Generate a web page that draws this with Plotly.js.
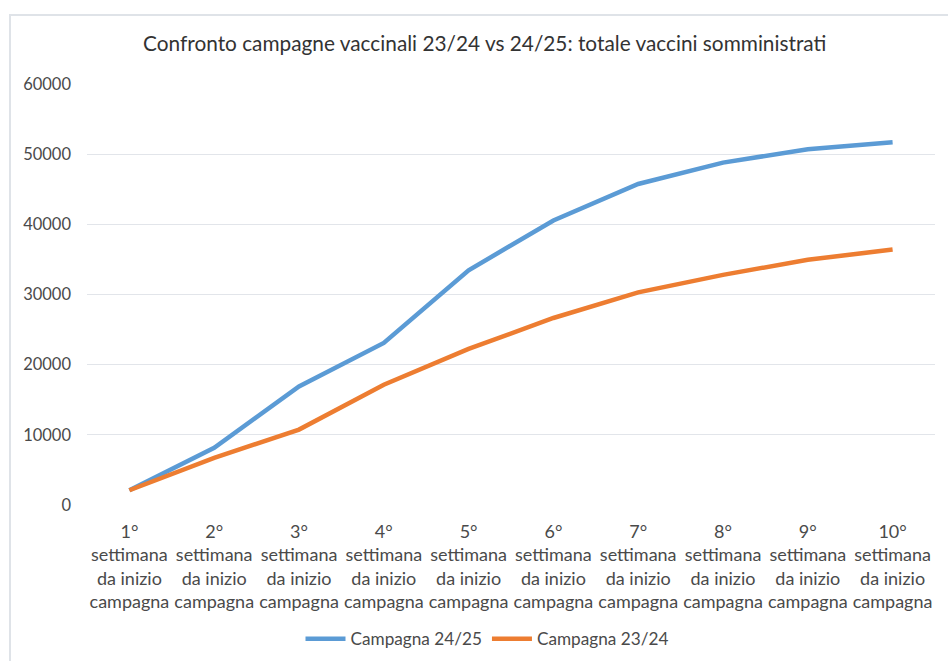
<!DOCTYPE html>
<html>
<head>
<meta charset="utf-8">
<script src="https://cdn.plot.ly/plotly-3.0.1.min.js"></script>
<style>
  html, body { margin: 0; padding: 0; background: #ffffff; }
  #wrap { position: relative; width: 948px; height: 661px; overflow: hidden; }
  #chart { width: 948px; height: 661px; }
  #frame { position: absolute; left: 9px; top: 14px; width: 960px; height: 700px;
           border-left: 2px solid #dfe3e8; border-top: 2px solid #dfe3e8; pointer-events: none; }
</style>
</head>
<body>
<div id="wrap">
  <div id="chart"></div>
  <div id="frame"></div>
</div>
<script>
// ---- data ----
const weeks = ["1°", "2°", "3°", "4°", "5°", "6°", "7°", "8°", "9°", "10°"];
const weekSuffix = "settimana<br>da inizio<br>campagna";
const campagna2425 = [2100, 8150, 16900, 23100, 33450, 40550, 45750, 48800, 50700, 51700];
const campagna2324 = [2100, 6700, 10750, 17150, 22250, 26650, 30300, 32800, 34950, 36400];
const yTicks = [0, 10000, 20000, 30000, 40000, 50000, 60000];
const seriesNames = ["Campagna 24/25", "Campagna 23/24"];

const categories = weeks.map(w => w + "<br>" + weekSuffix);
const FONT = "Lato, 'Open Sans', sans-serif";

const traces = [
  { x: categories, y: campagna2425, type: "scatter", mode: "lines", name: seriesNames[0],
    line: { color: "#5B9BD5", width: 4.5 } },
  { x: categories, y: campagna2324, type: "scatter", mode: "lines", name: seriesNames[1],
    line: { color: "#ED7D31", width: 4.5 } }
];

const layout = {
  width: 948, height: 661,
  margin: { l: 87, r: 13, t: 84, b: 155.5, pad: 0, autoexpand: false },
  paper_bgcolor: "#ffffff", plot_bgcolor: "#ffffff",
  font: { family: FONT, color: "#4a4a4a", size: 16 },
  title: {
    text: "Confronto campagne vaccinali 23/24 vs 24/25: totale vaccini somministrati",
    font: { family: FONT, size: 20.8, color: "#333333" },
    xref: "paper", x: 0.469, xanchor: "center",
    yref: "container", y: 1 - 44 / 661, yanchor: "middle"
  },
  xaxis: {
    type: "category", range: [-0.5, 9.5],
    showgrid: false, zeroline: false, showline: false,
    ticks: "", ticklabelstandoff: 14,
    tickfont: { family: FONT, size: 18, color: "#4a4a4a" }
  },
  yaxis: {
    range: [0, 60000], tickvals: yTicks, ticktext: yTicks.map(String),
    showgrid: true, gridcolor: "#e2e5ea", gridwidth: 1.3,
    zeroline: false, showline: false, ticks: "", ticklabelstandoff: 15,
    tickfont: { family: FONT, size: 16.5, color: "#4a4a4a" }
  },
  showlegend: true,
  legend: {
    orientation: "h", xref: "container", x: 487 / 948, xanchor: "center",
    yref: "container", y: 1 - 639 / 661, yanchor: "middle",
    font: { family: FONT, size: 17.2, color: "#4a4a4a" },
    itemwidth: 40, tracegroupgap: 0
  }
};

Plotly.newPlot("chart", traces, layout, { displayModeBar: false, staticPlot: true });
</script>
</body>
</html>
